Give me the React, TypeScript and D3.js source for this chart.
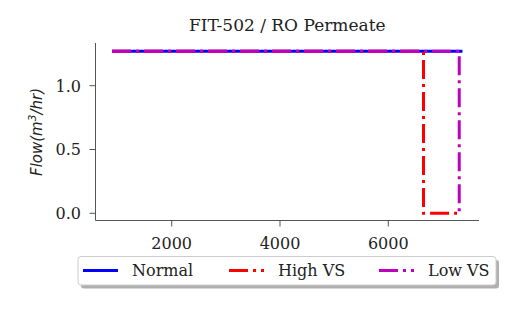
import * as d3 from 'd3';

type Pt = [number, number];

const normal: Pt[] = [[900, 1.27], [7370, 1.27]];
const highVS: Pt[] = [[900, 1.27], [6650, 1.27], [6650, 0], [7310, 0]];
const lowVS: Pt[] = [[900, 1.27], [7310, 1.27], [7310, 0]];
const xTicks = [2000, 4000, 6000];
const yTicks = [0, 0.5, 1.0];

const series = [
  { name: 'Normal', data: normal, color: '#0000ff', dash: '' },
  { name: 'High VS', data: highVS, color: '#ff0000', dash: '19,5,3,5' },
  { name: 'Low VS', data: lowVS, color: '#bf00bf', dash: '19,5,3,5' },
];

export default function App() {
  const W = 509, H = 315;
  const left = 95.5, right = 479, top = 43, bottom = 220.5;
  const x = d3.scaleLinear().domain([593, 7675]).range([left, right]);
  const y = d3.scaleLinear().domain([0, 1]).range([213.3, 85.7]);
  const line = d3.line<Pt>().x((d) => x(d[0])).y((d) => y(d[1]));
  const serif = 'DejaVu Serif';
  const legendX = [83, 229, 379];

  return (
    <svg width={W} height={H} style={{ position: 'absolute', left: 0, top: 0 }}>
      <rect width={W} height={H} fill="#fff" />
      <text x={(left + right) / 2} y={31} textAnchor="middle" fontFamily={serif} fontSize={17} fill="#222">
        FIT-502 / RO Permeate
      </text>
      {series.map((s) => (
        <path key={s.name} d={line(s.data) || ''} fill="none" stroke={s.color} strokeWidth={3}
          strokeDasharray={s.dash || undefined} />
      ))}
      <line x1={left} x2={left} y1={top} y2={bottom} stroke="#555" strokeWidth={1} />
      <line x1={left} x2={right} y1={bottom} y2={bottom} stroke="#555" strokeWidth={1} />
      {yTicks.map((t) => (
        <g key={t}>
          <line x1={left - 6} x2={left} y1={y(t)} y2={y(t)} stroke="#555" />
          <text x={81} y={y(t) + 5.8} textAnchor="end" fontFamily={serif} fontSize={16} fill="#222">
            {t.toFixed(1)}
          </text>
        </g>
      ))}
      {xTicks.map((t) => (
        <g key={t}>
          <line x1={x(t)} x2={x(t)} y1={bottom} y2={bottom + 6} stroke="#555" />
          <text x={x(t)} y={249} textAnchor="middle" fontFamily={serif} fontSize={16} fill="#222">
            {t}
          </text>
        </g>
      ))}
      <text transform="translate(42,132) rotate(-90)" textAnchor="middle" fontFamily="DejaVu Sans"
        fontStyle="italic" fontSize={15} fill="#222">
        Flow(m<tspan dy={-6} fontSize={10.5}>3</tspan><tspan dy={6}>/hr)</tspan>
      </text>
      <rect x={81} y={260} width={418} height={28.5} rx={3} fill="#b0b0b0" />
      <rect x={78} y={256.5} width={418} height={28.5} rx={3} fill="#fff" stroke="#ccc" strokeWidth={1} />
      {series.map((s, i) => (
        <g key={s.name}>
          <line x1={legendX[i]} x2={legendX[i] + 35} y1={270.5} y2={270.5} stroke={s.color} strokeWidth={3}
            strokeDasharray={s.dash || undefined} />
          <text x={legendX[i] + 49} y={276} fontFamily={serif} fontSize={16} fill="#222">
            {s.name}
          </text>
        </g>
      ))}
    </svg>
  );
}
